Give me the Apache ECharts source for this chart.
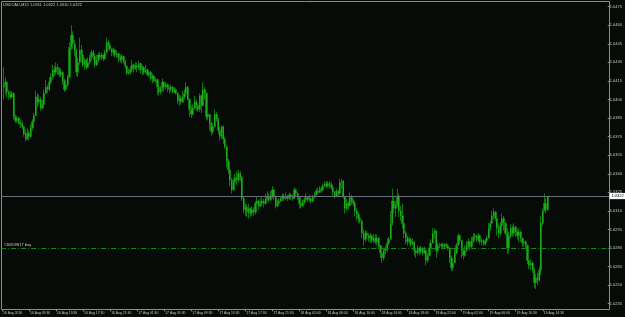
<!DOCTYPE html>
<html><head><meta charset="utf-8">
<script src="https://cdn.jsdelivr.net/npm/echarts@6/dist/echarts.min.js"></script>
<style>html,body{margin:0;padding:0;background:#070b08;}#c{width:625px;height:317px;}</style>
</head><body><div id="c"></div>
<script>
// USDCAD M15 candles (prices)
const titleText = 'USDCAD,M15 1.0311 1.0322 1.0310 1.0322';
const firstOpen = 1.0410;
const closes = [
1.0412,1.0414,1.0406,1.0404,1.0402,1.0405,1.0386,1.0383,1.0385,1.0381,
1.0380,1.0378,1.0372,1.0368,1.0373,1.0370,1.0377,1.0382,1.0387,1.0402,
1.0398,1.0400,1.0393,1.0396,1.0405,1.0410,1.0408,1.0414,1.0418,1.0424,
1.0422,1.0426,1.0424,1.0420,1.0422,1.0415,1.0408,1.0412,1.0418,1.0442,
1.0452,1.0445,1.0440,1.0422,1.0430,1.0440,1.0436,1.0428,1.0432,1.0426,
1.0430,1.0434,1.0438,1.0435,1.0428,1.0432,1.0436,1.0434,1.0436,1.0433,
1.0438,1.0446,1.0444,1.0441,1.0438,1.0440,1.0436,1.0437,1.0434,1.0432,
1.0435,1.0430,1.0427,1.0421,1.0422,1.0424,1.0428,1.0425,1.0427,1.0426,
1.0429,1.0424,1.0426,1.0422,1.0424,1.0420,1.0422,1.0417,1.0419,1.0415,
1.0416,1.0410,1.0406,1.0409,1.0414,1.0410,1.0412,1.0409,1.0408,1.0410,
1.0406,1.0408,1.0405,1.0399,1.0401,1.0398,1.0402,1.0405,1.0410,1.0400,
1.0392,1.0388,1.0393,1.0398,1.0395,1.0392,1.0403,1.0395,1.0408,1.0405,
1.0386,1.0388,1.0380,1.0374,1.0378,1.0388,1.0384,1.0375,1.0370,1.0378,
1.0368,1.0362,1.0350,1.0343,1.0335,1.0327,1.0333,1.0337,1.0335,1.0340,
1.0337,1.0320,1.0311,1.0313,1.0309,1.0312,1.0308,1.0311,1.0309,1.0316,
1.0318,1.0314,1.0316,1.0318,1.0316,1.0320,1.0322,1.0319,1.0322,1.0327,
1.0322,1.0314,1.0316,1.0318,1.0320,1.0322,1.0320,1.0322,1.0320,1.0323,
1.0321,1.0320,1.0327,1.0324,1.0321,1.0316,1.0314,1.0317,1.0319,1.0321,
1.0319,1.0320,1.0318,1.0321,1.0323,1.0326,1.0325,1.0328,1.0327,1.0330,
1.0332,1.0330,1.0332,1.0331,1.0329,1.0325,1.0322,1.0326,1.0324,1.0333,
1.0334,1.0322,1.0312,1.0316,1.0314,1.0321,1.0318,1.0316,1.0310,1.0307,
1.0304,1.0302,1.0292,1.0287,1.0292,1.0290,1.0288,1.0290,1.0286,1.0288,
1.0285,1.0288,1.0282,1.0276,1.0272,1.0278,1.0280,1.0284,1.0287,1.0300,
1.0318,1.0312,1.0315,1.0322,1.0310,1.0306,1.0300,1.0292,1.0288,1.0285,
1.0287,1.0283,1.0285,1.0278,1.0276,1.0280,1.0277,1.0280,1.0276,1.0278,
1.0270,1.0274,1.0280,1.0284,1.0292,1.0294,1.0278,1.0282,1.0282,1.0283,
1.0281,1.0283,1.0282,1.0280,1.0272,1.0264,1.0268,1.0276,1.0282,1.0290,
1.0286,1.0278,1.0274,1.0278,1.0282,1.0285,1.0281,1.0286,1.0289,1.0290,
1.0287,1.0290,1.0285,1.0286,1.0283,1.0286,1.0288,1.0296,1.0300,1.0306,
1.0309,1.0304,1.0296,1.0292,1.0298,1.0304,1.0300,1.0292,1.0280,1.0290,
1.0296,1.0292,1.0297,1.0293,1.0290,1.0293,1.0288,1.0284,1.0285,1.0282,
1.0270,1.0266,1.0268,1.0262,1.0252,1.0256,1.0254,1.0262,1.0300,1.0310,
1.0316,1.0311,1.0322];
const highs = [
1.0426,1.0418,1.0415,1.0408,1.0407,1.0407,1.0406,1.0388,1.0387,1.0386,
1.0384,1.0383,1.0379,1.0376,1.0377,1.0375,1.0380,1.0384,1.0389,1.0407,
1.0405,1.0404,1.0402,1.0400,1.0408,1.0416,1.0412,1.0418,1.0421,1.0428,
1.0427,1.0430,1.0429,1.0426,1.0425,1.0423,1.0417,1.0416,1.0420,1.0446,
1.0460,1.0455,1.0448,1.0441,1.0434,1.0450,1.0444,1.0438,1.0434,1.0433,
1.0434,1.0436,1.0440,1.0440,1.0437,1.0436,1.0438,1.0438,1.0438,1.0437,
1.0440,1.0450,1.0448,1.0446,1.0442,1.0442,1.0441,1.0440,1.0437,1.0436,
1.0437,1.0434,1.0432,1.0427,1.0425,1.0427,1.0432,1.0429,1.0430,1.0430,
1.0431,1.0429,1.0428,1.0427,1.0428,1.0425,1.0424,1.0423,1.0421,1.0420,
1.0418,1.0417,1.0412,1.0411,1.0417,1.0415,1.0414,1.0413,1.0411,1.0412,
1.0411,1.0410,1.0409,1.0406,1.0404,1.0403,1.0407,1.0408,1.0414,1.0411,
1.0401,1.0395,1.0396,1.0403,1.0400,1.0397,1.0405,1.0404,1.0414,1.0410,
1.0406,1.0392,1.0387,1.0382,1.0381,1.0392,1.0390,1.0385,1.0378,1.0379,
1.0379,1.0370,1.0359,1.0352,1.0345,1.0337,1.0336,1.0340,1.0342,1.0343,
1.0342,1.0338,1.0322,1.0316,1.0315,1.0316,1.0313,1.0314,1.0313,1.0318,
1.0322,1.0319,1.0320,1.0321,1.0320,1.0324,1.0326,1.0324,1.0326,1.0330,
1.0328,1.0320,1.0319,1.0320,1.0322,1.0324,1.0324,1.0325,1.0323,1.0325,
1.0324,1.0323,1.0329,1.0328,1.0325,1.0320,1.0318,1.0319,1.0321,1.0324,
1.0322,1.0323,1.0321,1.0323,1.0325,1.0328,1.0329,1.0330,1.0330,1.0332,
1.0334,1.0334,1.0334,1.0334,1.0333,1.0330,1.0326,1.0328,1.0327,1.0336,
1.0336,1.0335,1.0320,1.0320,1.0318,1.0325,1.0323,1.0320,1.0318,1.0312,
1.0309,1.0306,1.0302,1.0295,1.0294,1.0294,1.0292,1.0292,1.0291,1.0291,
1.0291,1.0291,1.0289,1.0282,1.0278,1.0280,1.0282,1.0288,1.0289,1.0310,
1.0328,1.0322,1.0318,1.0328,1.0324,1.0314,1.0316,1.0302,1.0294,1.0290,
1.0289,1.0288,1.0288,1.0284,1.0280,1.0282,1.0281,1.0282,1.0281,1.0281,
1.0279,1.0276,1.0284,1.0287,1.0296,1.0296,1.0292,1.0284,1.0284,1.0284,
1.0284,1.0284,1.0284,1.0283,1.0281,1.0274,1.0271,1.0280,1.0284,1.0292,
1.0291,1.0285,1.0280,1.0282,1.0286,1.0288,1.0286,1.0289,1.0292,1.0292,
1.0291,1.0292,1.0291,1.0288,1.0287,1.0288,1.0290,1.0300,1.0302,1.0310,
1.0312,1.0310,1.0304,1.0300,1.0301,1.0308,1.0306,1.0301,1.0296,1.0293,
1.0299,1.0298,1.0300,1.0298,1.0295,1.0296,1.0294,1.0288,1.0287,1.0286,
1.0283,1.0271,1.0271,1.0269,1.0264,1.0259,1.0260,1.0265,1.0306,1.0312,
1.0324,1.0320,1.0322];
const lows = [
1.0400,1.0404,1.0402,1.0400,1.0400,1.0401,1.0384,1.0381,1.0381,1.0380,
1.0377,1.0376,1.0370,1.0366,1.0367,1.0367,1.0369,1.0375,1.0380,1.0387,
1.0394,1.0396,1.0391,1.0392,1.0394,1.0404,1.0405,1.0407,1.0412,1.0416,
1.0419,1.0420,1.0420,1.0418,1.0418,1.0412,1.0406,1.0407,1.0410,1.0418,
1.0440,1.0441,1.0435,1.0419,1.0418,1.0428,1.0430,1.0426,1.0424,1.0424,
1.0425,1.0428,1.0431,1.0432,1.0426,1.0427,1.0430,1.0432,1.0432,1.0431,
1.0432,1.0437,1.0440,1.0439,1.0435,1.0435,1.0434,1.0434,1.0430,1.0430,
1.0429,1.0429,1.0425,1.0420,1.0420,1.0420,1.0423,1.0422,1.0424,1.0422,
1.0424,1.0421,1.0420,1.0420,1.0421,1.0419,1.0418,1.0415,1.0413,1.0414,
1.0413,1.0404,1.0403,1.0404,1.0407,1.0406,1.0408,1.0406,1.0405,1.0406,
1.0405,1.0405,1.0404,1.0396,1.0395,1.0396,1.0397,1.0400,1.0403,1.0399,
1.0386,1.0385,1.0387,1.0392,1.0391,1.0390,1.0390,1.0389,1.0398,1.0400,
1.0384,1.0383,1.0375,1.0371,1.0372,1.0378,1.0382,1.0372,1.0367,1.0368,
1.0364,1.0360,1.0345,1.0340,1.0330,1.0324,1.0328,1.0330,1.0331,1.0333,
1.0334,1.0318,1.0308,1.0306,1.0305,1.0304,1.0305,1.0306,1.0306,1.0307,
1.0312,1.0311,1.0313,1.0315,1.0313,1.0315,1.0318,1.0317,1.0318,1.0320,
1.0319,1.0312,1.0313,1.0314,1.0317,1.0318,1.0318,1.0319,1.0318,1.0319,
1.0319,1.0318,1.0320,1.0321,1.0319,1.0312,1.0312,1.0313,1.0315,1.0318,
1.0317,1.0317,1.0316,1.0317,1.0320,1.0322,1.0323,1.0324,1.0325,1.0326,
1.0329,1.0328,1.0329,1.0328,1.0327,1.0322,1.0320,1.0321,1.0321,1.0323,
1.0328,1.0320,1.0308,1.0310,1.0311,1.0314,1.0315,1.0314,1.0306,1.0302,
1.0300,1.0300,1.0288,1.0282,1.0285,1.0287,1.0285,1.0284,1.0284,1.0284,
1.0283,1.0282,1.0279,1.0272,1.0268,1.0270,1.0275,1.0277,1.0282,1.0288,
1.0298,1.0308,1.0305,1.0313,1.0305,1.0302,1.0296,1.0288,1.0283,1.0282,
1.0283,1.0281,1.0282,1.0274,1.0272,1.0274,1.0274,1.0275,1.0274,1.0275,
1.0266,1.0268,1.0276,1.0278,1.0284,1.0288,1.0272,1.0276,1.0280,1.0280,
1.0279,1.0280,1.0280,1.0278,1.0268,1.0261,1.0262,1.0269,1.0275,1.0282,
1.0283,1.0272,1.0271,1.0273,1.0277,1.0280,1.0278,1.0280,1.0284,1.0286,
1.0285,1.0285,1.0283,1.0282,1.0282,1.0282,1.0284,1.0288,1.0294,1.0300,
1.0303,1.0302,1.0290,1.0288,1.0290,1.0296,1.0294,1.0290,1.0275,1.0276,
1.0288,1.0289,1.0290,1.0289,1.0287,1.0285,1.0285,1.0281,1.0281,1.0280,
1.0267,1.0263,1.0262,1.0260,1.0248,1.0247,1.0250,1.0253,1.0258,1.0298,
1.0310,1.0308,1.0310];
// time tick labels, one every 16 bars
const tickLabels = ['16 Aug 2016','16 Aug 09:30','16 Aug 13:30','16 Aug 17:30','16 Aug 21:30',
'17 Aug 01:30','17 Aug 05:30','17 Aug 09:30','17 Aug 13:30','17 Aug 17:30','17 Aug 21:30',
'18 Aug 02:00','18 Aug 06:00','18 Aug 10:00','18 Aug 14:00','18 Aug 18:00','18 Aug 22:00',
'19 Aug 02:00','19 Aug 06:00','19 Aug 10:30','19 Aug 14:30'];
const priceTicks = {min: 1.0235, max: 1.0475, step: 0.0015};
const lastPrice = 1.0322;
const buyLevel = 1.02797;
const buyLabel = '#10659817 buy';

const N = 360, step = 16;
const cats = [];
for (let i = 0; i < N; i++) cats.push(i % step === 0 && tickLabels[i / step] ? tickLabels[i / step] : '');
const opens = closes.map((c, i) => i === 0 ? firstOpen : closes[i - 1]);
const full = ['-'], bodies = ['-'];
closes.forEach((c, i) => {
  const o = opens[i];
  full.push([o, c, Math.min(lows[i], o, c), Math.max(highs[i], o, c)]);
  bodies.push([o, c, Math.min(o, c), Math.max(o, c)]);
});
const txt = '#c8c8c8', font = 'Liberation Sans';
const dark = '#0b7a0b', lime = '#3ef03e';
const tickShow = (i) => i % step === 0 && i / step < tickLabels.length;
const chart = echarts.init(document.getElementById('c'), null, {renderer: 'canvas'});
chart.setOption({
  backgroundColor: '#070b08',
  animation: false,
  title: {text: titleText, left: 3, top: 2.4, padding: 0,
    textStyle: {fontSize: 4, color: txt, fontWeight: 'normal', fontFamily: font}},
  grid: [
    {left: 0.855, right: 15.5, top: 1.7, bottom: 7.7},
    {left: 0.855, right: 15.5, top: 6.7, bottom: 13.3},
    {left: 1.5, right: 15.5, top: 1.5, bottom: 7.5, show: true, borderColor: '#8c8c8c', borderWidth: 1, backgroundColor: 'transparent'}
  ],
  xAxis: [
    {type: 'category', gridIndex: 0, data: cats, boundaryGap: true,
      axisLine: {show: false},
      axisTick: {show: true, alignWithLabel: true, length: 2, interval: tickShow, lineStyle: {color: '#8c8c8c'}},
      axisLabel: {show: true, interval: tickShow, align: 'left', margin: 2, padding: [0, 0, 0, 1],
        fontSize: 3.4, color: txt, fontFamily: font},
      splitLine: {show: false}},
    {type: 'category', gridIndex: 1, data: cats, show: false},
    {type: 'value', gridIndex: 2, show: false}
  ],
  yAxis: [
    {type: 'value', gridIndex: 0, show: false, min: 1.02305, max: 1.04790},
    {type: 'value', gridIndex: 1, position: 'right', min: priceTicks.min, max: priceTicks.max, interval: priceTicks.step,
      axisLine: {show: false}, splitLine: {show: false},
      axisTick: {show: true, length: 2, lineStyle: {color: '#8c8c8c'}},
      axisLabel: {show: true, margin: 2, fontSize: 4, color: txt, fontFamily: font, formatter: (v) => v.toFixed(4)}},
    {type: 'value', gridIndex: 2, show: false}
  ],
  series: [
    {type: 'candlestick', xAxisIndex: 0, yAxisIndex: 0, data: full, barWidth: 1.7, z: 2,
      itemStyle: {color: dark, color0: dark, borderColor: dark, borderColor0: dark, borderColorDoji: dark, borderWidth: 1},
      markLine: {silent: true, symbol: ['none', 'none'], animation: false, precision: 5,
        lineStyle: {color: '#118811', type: [5, 2, 1, 2], width: 1},
        label: {show: true, position: 'insideStartTop', distance: [2.5, 1.5], formatter: buyLabel, color: txt, fontSize: 4, fontFamily: font},
        data: [{yAxis: buyLevel}]}},
    {type: 'candlestick', xAxisIndex: 0, yAxisIndex: 0, data: bodies, barWidth: 1, z: 3,
      itemStyle: {color: lime, color0: lime, borderColor: lime, borderColor0: lime, borderColorDoji: lime, borderWidth: 0.4},
      markLine: {silent: true, symbol: ['none', 'none'], animation: false, precision: 5,
        lineStyle: {color: '#6a6e7c', type: 'solid', width: 1},
        label: {show: true, position: 'end', distance: 0, formatter: lastPrice.toFixed(4), backgroundColor: '#ffffff', color: '#000000',
          fontSize: 4, fontFamily: font, padding: [1.2, 2, 1, 2]},
        data: [{yAxis: lastPrice}]}}
  ]
});
</script></body></html>
